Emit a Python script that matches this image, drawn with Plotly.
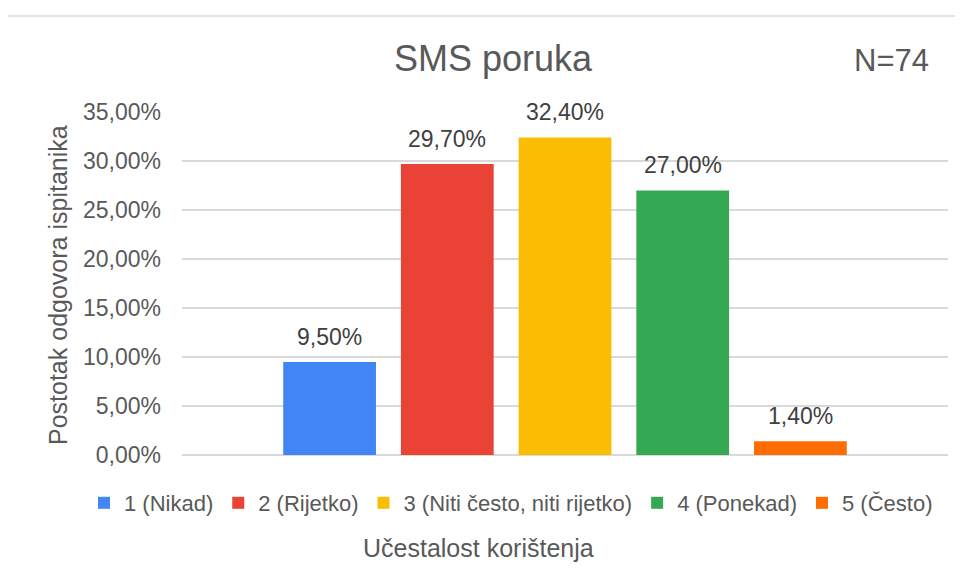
import plotly.graph_objects as go

categories = ["1 (Nikad)", "2 (Rijetko)", "3 (Niti često, niti rijetko)", "4 (Ponekad)", "5 (Često)"]
values = [0.095, 0.297, 0.324, 0.270, 0.014]
colors = ["#4285F4", "#EA4335", "#FBBC04", "#34A853", "#FF6D01"]
y_ticks = [0, 0.05, 0.10, 0.15, 0.20, 0.25, 0.30, 0.35]
title_text = "SMS poruka"
n_text = "N=74"
x_title = "Učestalost korištenja"
y_title = "Postotak odgovora ispitanika"

FONT = "Arial, Liberation Sans, sans-serif"
GREY = "#595959"

# page geometry (the html body adds an 8px offset)
OFF = 8
W, H = 963 - OFF, 570 - OFF
PL, PR, PT, PB = 182, 948, 112, 455   # plot area in page pixels
pw, ph = PR - PL, PB - PT

def px_x(p):
    return (p - PL) / pw

def px_y(p):
    return (PB - p) / ph

fig = go.Figure()
for i, (c, v, col) in enumerate(zip(categories, values, colors)):
    fig.add_trace(go.Bar(
        x=[i], y=[v], name=c, marker=dict(color=col, line=dict(width=0)),
        width=0.788,
    ))
    fig.add_annotation(
        x=i, y=v, xref="x", yref="y", text=f"{v*100:.2f}%".replace(".", ","),
        showarrow=False, yanchor="middle", yshift=25,
        font=dict(family=FONT, size=23, color="#404040"),
    )

fig.update_layout(
    width=W, height=H,
    margin=dict(l=PL - OFF, r=W - (PR - OFF), t=PT - OFF, b=H - (PB - OFF), autoexpand=False),
    paper_bgcolor="white", plot_bgcolor="white",
    barmode="overlay",
    separators=",.",
    showlegend=True,
    legend=dict(
        orientation="h", x=px_x(84), xanchor="left",
        y=px_y(482), yanchor="top",
        font=dict(family=FONT, size=22, color=GREY),
        itemclick=False, traceorder="normal",
    ),
    xaxis=dict(
        range=[-1.254, 5.254], showticklabels=False, showgrid=False,
        zeroline=False, showline=False, ticks="", fixedrange=True,
    ),
    yaxis=dict(
        range=[0, 0.35], tickvals=y_ticks, tickformat=".2%",
        showgrid=True, gridcolor="#D9D9D9", gridwidth=1.5,
        zeroline=True, zerolinecolor="#D9D9D9", zerolinewidth=1.5,
        showline=False, ticks="", ticklabelstandoff=20,
        tickfont=dict(family=FONT, size=23, color=GREY),
    ),
    annotations=list(fig.layout.annotations) + [
        dict(text=title_text, xref="paper", yref="paper", x=px_x(493), y=px_y(58),
             xanchor="center", yanchor="middle", showarrow=False,
             font=dict(family=FONT, size=36, color=GREY)),
        dict(text=n_text, xref="paper", yref="paper", x=px_x(891), y=px_y(60),
             xanchor="center", yanchor="middle", showarrow=False,
             font=dict(family=FONT, size=31, color=GREY)),
        dict(text=x_title, xref="paper", yref="paper", x=px_x(478), y=px_y(548),
             xanchor="center", yanchor="middle", showarrow=False,
             font=dict(family=FONT, size=25, color=GREY)),
        dict(text=y_title, xref="paper", yref="paper", x=px_x(58), y=px_y(285),
             xanchor="center", yanchor="middle", showarrow=False, textangle=-90,
             font=dict(family=FONT, size=25, color=GREY)),
    ],
    shapes=[dict(type="rect", xref="paper", yref="paper",
                 x0=px_x(7), x1=px_x(990), y0=px_y(600), y1=px_y(16),
                 line=dict(color="#D9D9D9", width=1.5), fillcolor="rgba(0,0,0,0)",
                 layer="below")],
)

fig.write_html("out.html")
